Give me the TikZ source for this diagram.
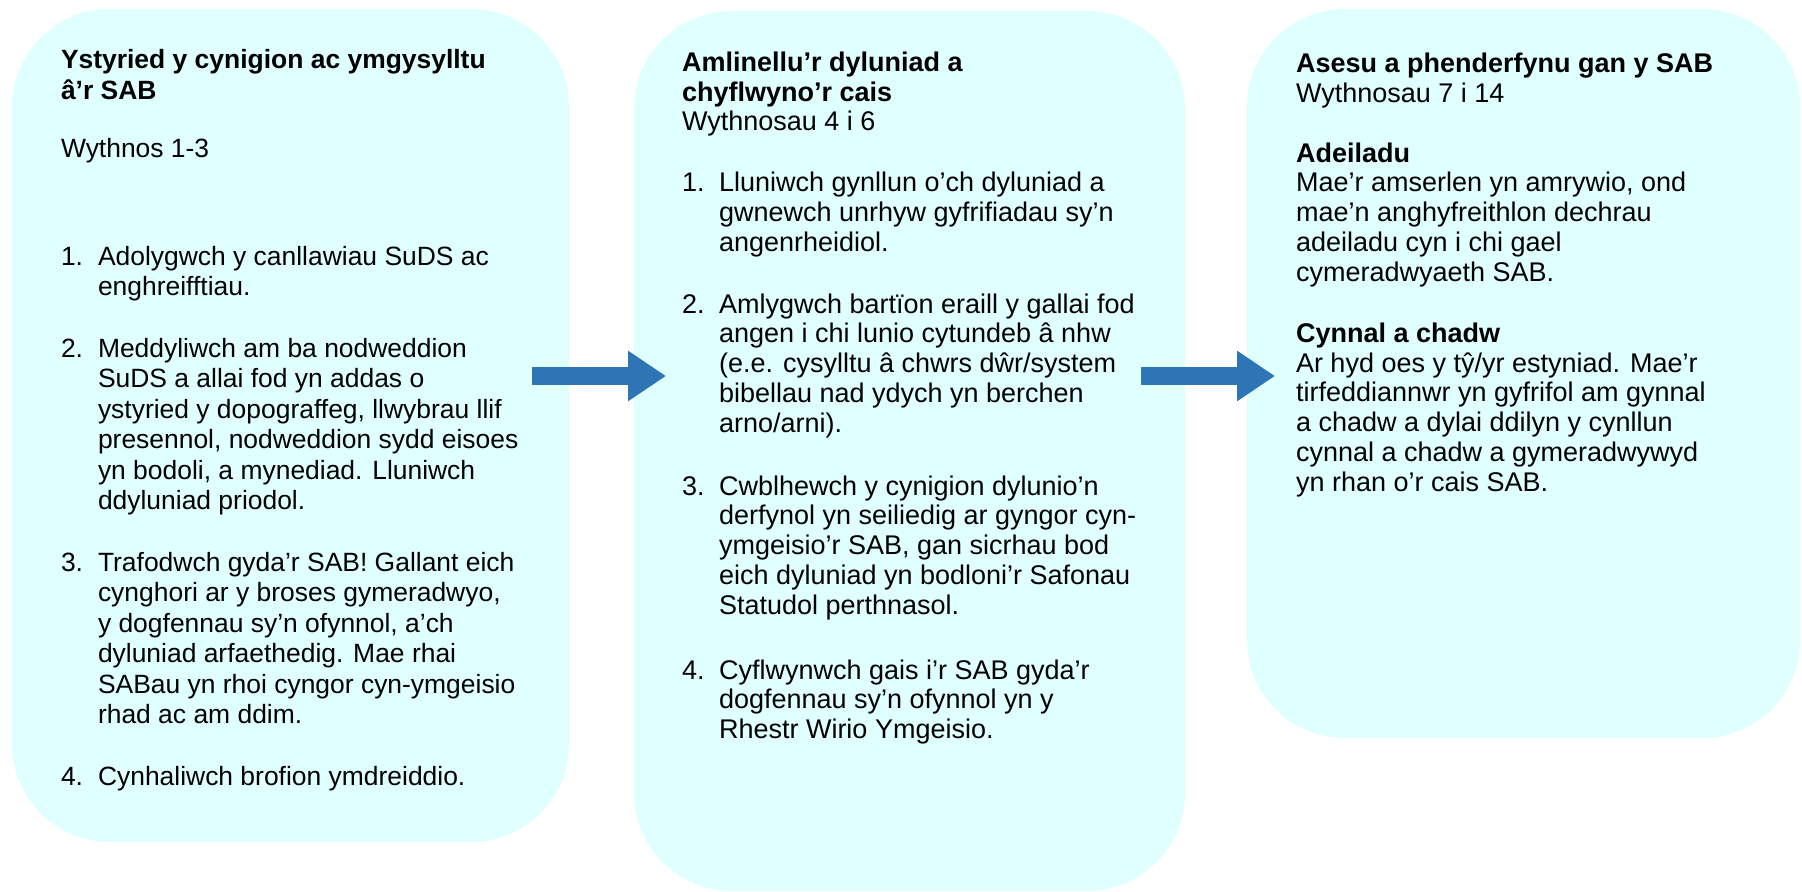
\documentclass[tikz,border=0pt]{standalone}
\usepackage{fontspec}
\setmainfont{Liberation Sans}
\usetikzlibrary{arrows.meta,positioning}
\definecolor{stagefill}{HTML}{E0FFFF}
\definecolor{flowblue}{HTML}{2E75B6}
% lines of a paragraph, baseline on the first line
\newcommand{\paralines}[1]{\begin{tabular}[t]{@{}l@{}}#1\end{tabular}}

\begin{document}
\begin{tikzpicture}[x=0.02cm,y=-0.02cm,
  every node/.style={font=\fontsize{15.37pt}{17.07pt}\selectfont,inner sep=0pt,outer sep=0pt},
  stagebox/.style={rectangle,fill=stagefill,rounded corners=1.95cm},
  bodytxt/.style={anchor=base west},
  titletxt/.style={bodytxt,font=\fontsize{15.37pt}{17.07pt}\selectfont\bfseries},
  smalltxt/.style={bodytxt,font=\fontsize{15.05pt}{17.36pt}\selectfont},
  smalltitle/.style={bodytxt,font=\fontsize{15.05pt}{17.36pt}\selectfont\bfseries},
  flowarrow/.style={draw=flowblue,line width=0.36cm,-{Triangle[length=0.76cm,width=0.96cm]}}]
  \useasboundingbox (0,0) rectangle (1802,892);

  % the three stages
  \node[stagebox,minimum width=11.14cm,minimum height=16.66cm] (box1) at (290.5,425.5) {};
  \node[stagebox,minimum width=11.02cm,minimum height=17.6cm] (box2) at (909.5,451) {};
  \node[stagebox,minimum width=11.06cm,minimum height=14.58cm] (box3) at (1523.5,373.5) {};

  % arrows between stages
  \coordinate (a1s) at (532,376);
  \coordinate (a1e) at (666,376);
  \coordinate (a2s) at (1141,376);
  \coordinate (a2e) at (1275,376);
  \draw[flowarrow] (a1s) -- (a1e);
  \draw[flowarrow] (a2s) -- (a2e);

  % stage 1
  \node[smalltitle] (title1) at (61,69) {\paralines{Ystyried y cynigion ac ymgysylltu\\â’r SAB}};
  \node[smalltxt] (weeks1) at (61,157) {Wythnos 1-3};
  \node[smalltxt] (n1a) at (61,265) {1.};
  \node[smalltxt] (t1a) at (98,265) {\paralines{Adolygwch y canllawiau SuDS ac\\enghreifftiau.}};
  \node[smalltxt] (n1b) at (61,357) {2.};
  \node[smalltxt] (t1b) at (98,357) {\paralines{Meddyliwch am ba nodweddion\\SuDS a allai fod yn addas o\\ystyried y dopograffeg, llwybrau llif\\presennol, nodweddion sydd eisoes\\yn bodoli, a mynediad. Lluniwch\\ddyluniad priodol.}};
  \node[smalltxt] (n1c) at (61,571) {3.};
  \node[smalltxt] (t1c) at (98,571) {\paralines{Trafodwch gyda’r SAB! Gallant eich\\cynghori ar y broses gymeradwyo,\\y dogfennau sy’n ofynnol, a’ch\\dyluniad arfaethedig. Mae rhai\\SABau yn rhoi cyngor cyn-ymgeisio\\rhad ac am ddim.}};
  \node[smalltxt] (n1d) at (61,785) {4.};
  \node[smalltxt] (t1d) at (98,785) {Cynhaliwch brofion ymdreiddio.};

  % stage 2
  \node[titletxt] (title2) at (682,72) {\paralines{Amlinellu’r dyluniad a\\chyflwyno’r cais}};
  \node[bodytxt] (weeks2) at (682,131) {Wythnosau 4 i 6};
  \node[bodytxt] (n2a) at (682,192) {1.};
  \node[bodytxt] (t2a) at (719,192) {\paralines{Lluniwch gynllun o’ch dyluniad a\\gwnewch unrhyw gyfrifiadau sy’n\\angenrheidiol.}};
  \node[bodytxt] (n2b) at (682,313) {2.};
  \node[bodytxt] (t2b) at (719,313) {\paralines{Amlygwch bartïon eraill y gallai fod\\angen i chi lunio cytundeb â nhw\\(e.e. cysylltu â chwrs dŵr/system\\bibellau nad ydych yn berchen\\arno/arni).}};
  \node[bodytxt] (n2c) at (682,495) {3.};
  \node[bodytxt] (t2c) at (719,495) {\paralines{Cwblhewch y cynigion dylunio’n\\derfynol yn seiliedig ar gyngor cyn-\\ymgeisio’r SAB, gan sicrhau bod\\eich dyluniad yn bodloni’r Safonau\\Statudol perthnasol.}};
  \node[bodytxt] (n2d) at (682,679) {4.};
  \node[bodytxt] (t2d) at (719,679) {\paralines{Cyflwynwch gais i’r SAB gyda’r\\dogfennau sy’n ofynnol yn y\\Rhestr Wirio Ymgeisio.}};

  % stage 3
  \node[titletxt] (title3) at (1296,73) {Asesu a phenderfynu gan y SAB};
  \node[bodytxt] (weeks3) at (1296,103) {Wythnosau 7 i 14};
  \node[titletxt] (build) at (1296,162) {Adeiladu};
  \node[bodytxt] (buildtxt) at (1296,192) {\paralines{Mae’r amserlen yn amrywio, ond\\mae’n anghyfreithlon dechrau\\adeiladu cyn i chi gael\\cymeradwyaeth SAB.}};
  \node[titletxt] (maint) at (1296,342) {Cynnal a chadw};
  \node[bodytxt] (mainttxt) at (1296,372) {\paralines{Ar hyd oes y tŷ/yr estyniad. Mae’r\\tirfeddiannwr yn gyfrifol am gynnal\\a chadw a dylai ddilyn y cynllun\\cynnal a chadw a gymeradwywyd\\yn rhan o’r cais SAB.}};
\end{tikzpicture}
\end{document}
